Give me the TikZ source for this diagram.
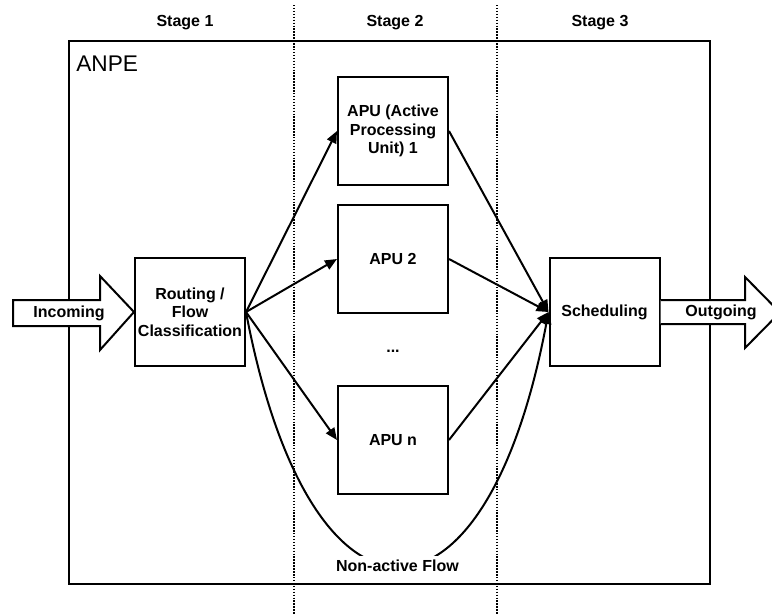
\documentclass[tikz,border=0pt]{standalone}
\usepackage{fontspec}
\setmainfont{Liberation Sans}
\usetikzlibrary{arrows.meta, positioning}

\tikzset{
  unit/.style={
    rectangle, draw, line width=1.5pt, fill=white,
    minimum width=82.5pt, minimum height=81pt,
    inner sep=1pt, align=center,
    font=\fontsize{12}{13.75}\selectfont\bfseries
  },
  boldtext/.style={font=\fontsize{12}{13.75}\selectfont\bfseries, inner sep=3pt},
  arrow/.style={-{Triangle[length=9pt, width=7.5pt]}, line width=1.5pt},
  bigarrow/.style={draw, line width=1.5pt, fill=white, line join=miter},
  stageline/.style={line width=0.9pt, dash pattern=on 1.1pt off 1.1pt},
}

\begin{document}
\begin{tikzpicture}[x=0.75pt, y=-0.75pt]
  \useasboundingbox (0,0) rectangle (772,615);
  \clip (0,0) rectangle (772,615);

  % Frame and stages
  \draw[line width=0.9pt] (69,41) rectangle (710,584);
  \node[anchor=base west, inner sep=0pt, font=\fontsize{17}{20}\selectfont] (anpe) at (76,71) {ANPE};
  \draw[stageline] (294,5) -- (294,615);
  \draw[stageline] (497,5) -- (497,615);
  \node[boldtext] (s1) at (185,23) {Stage 1};
  \node[boldtext] (s2) at (395,23) {Stage 2};
  \node[boldtext] (s3) at (600,23) {Stage 3};

  % Nodes
  \node[unit] (route) at (190,312) {Routing /\\Flow\\Classification};
  \node[unit] (apu1)  at (393,131) {APU (Active\\Processing\\Unit) 1};
  \node[unit, below=13.5pt of apu1] (apu2) {APU 2};
  \node[unit, below=53.25pt of apu2] (apun) {APU n};
  \node[boldtext] (dots) at (393,351) {...};
  \node[unit] (sched) at (604.5,312) {Scheduling};

  % Block arrows
  \draw[bigarrow] (13,300) -- (100,300) -- (100,276) -- (route.west)
    -- (100,350) -- (100,326) -- (13,326) -- cycle;
  \node[boldtext] (inc) at (69,313) {Incoming};
  \draw[bigarrow] (sched.east |- 0,300) -- (745,300) -- (745,277) -- (780,312.5)
    -- (745,348) -- (745,324) -- (sched.east |- 0,324);
  \node[boldtext] (outg) at (721,312) {Outgoing};

  % Arrows
  \foreach \a in {apu1, apu2, apun}{
    \draw[arrow] (route.east) -- (\a.west);
    \draw[arrow] (\a.east) -- (sched.west);
  }
  \draw[arrow] (route.east) .. controls (310,650) and (485,650) .. (sched.west)
    node[pos=0.5, fill=white, boldtext] (naf) {Non-active Flow};

\end{tikzpicture}
\end{document}
